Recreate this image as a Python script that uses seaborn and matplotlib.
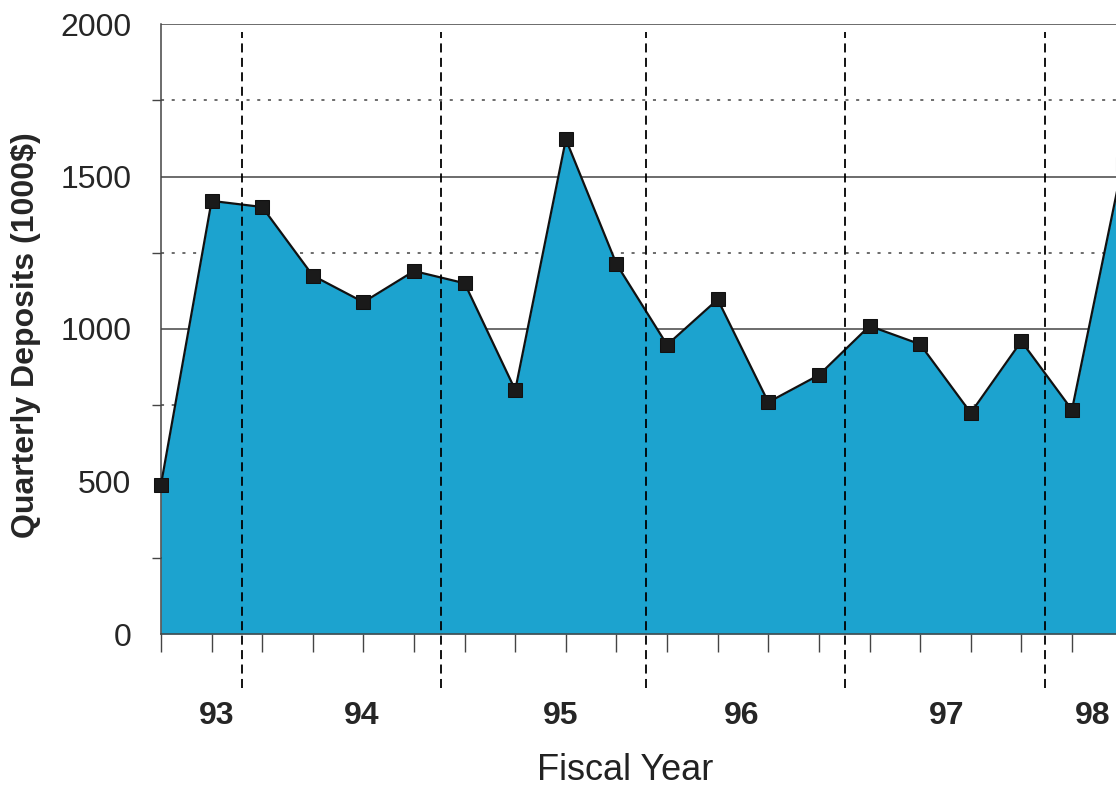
import matplotlib
matplotlib.use("Agg")
import matplotlib.pyplot as plt
from matplotlib.ticker import MultipleLocator
import seaborn as sns
import pandas as pd

# Quarterly deposits (1000$), one value per quarter starting at the 4th quarter of FY92
quarter = list(range(20))
deposits = [490, 1420, 1400, 1175, 1088, 1190, 1150, 800, 1622, 1213,
            948, 1097, 760, 849, 1010, 950, 725, 960, 735, 1540]

# Fiscal year labels and where each one sits on the quarter axis
year_labels = ["93", "94", "95", "96", "97", "98"]
year_label_pos = [1.1, 3.97, 7.9, 11.48, 15.53, 18.4]

# Fiscal year boundaries (between quarters)
year_breaks = [1.6, 5.53, 9.58, 13.52, 17.47]

df = pd.DataFrame({"quarter": quarter, "deposits": deposits})

sns.set_style("white")
plt.rcParams["font.family"] = ["Liberation Sans", "DejaVu Sans"]

fig = plt.figure(figsize=(11.16, 7.91), dpi=100)
ax = fig.add_axes([161 / 1116, 1 - 634 / 791, 955 / 1116, 610 / 791])

# Filled area under the series
ax.fill_between(df["quarter"], df["deposits"], 0, color="#1CA3CF", lw=0, zorder=1)

# Line with square markers
sns.lineplot(data=df, x="quarter", y="deposits", ax=ax, color="#111111",
             lw=1.6, marker="s", markersize=9.5, markeredgecolor="#111111",
             markerfacecolor="#1a1a1a", zorder=4, clip_on=False)

# Fiscal year separators
for xb in year_breaks:
    ax.axvline(xb, ymin=-0.089, ymax=0.987, clip_on=False, color="black",
               ls=(0, (5, 3)), lw=1.3, zorder=5)

# Y axis ticks and grid
ax.yaxis.set_major_locator(MultipleLocator(500))
ax.yaxis.set_minor_locator(MultipleLocator(250))
ax.set_axisbelow(True)
ax.yaxis.grid(True, which="major", color="#444444", lw=1.1, ls="-")
ax.yaxis.grid(True, which="minor", color="#444444", lw=1.1, ls=(0, (2, 5)))
ax.tick_params(axis="y", which="major", direction="out", length=13.5, width=1,
               color="#444444", labelsize=23, pad=8)
ax.tick_params(axis="y", which="minor", direction="out", length=6.5, width=1,
               color="#444444", left=True)

# X axis: small quarter ticks, year labels without tick marks
ax.set_xticks(quarter, minor=True)
ax.set_xticks(year_label_pos)
ax.set_xticklabels(year_labels, fontweight="bold")
ax.tick_params(axis="x", which="major", length=0, labelsize=23, pad=48)
ax.tick_params(axis="x", which="minor", direction="out", length=13, width=1,
               color="#444444", bottom=True)

# limits after the ticks, so set_xticks does not widen the view
ax.set_xlim(0, 18.87)
ax.set_ylim(0, 2000)

for side in ["top", "right"]:
    ax.spines[side].set_visible(False)
for side in ["left", "bottom"]:
    ax.spines[side].set_color("#444444")
    ax.spines[side].set_linewidth(1.1)

ax.set_ylabel("Quarterly Deposits (1000$)", fontsize=23, fontweight="bold")
ax.yaxis.set_label_coords(-0.126, 0.49)
ax.set_xlabel("Fiscal Year", fontsize=26, color="#222222")
ax.xaxis.set_label_coords(0.486, -0.195)

fig.savefig("out.png", dpi=100)
